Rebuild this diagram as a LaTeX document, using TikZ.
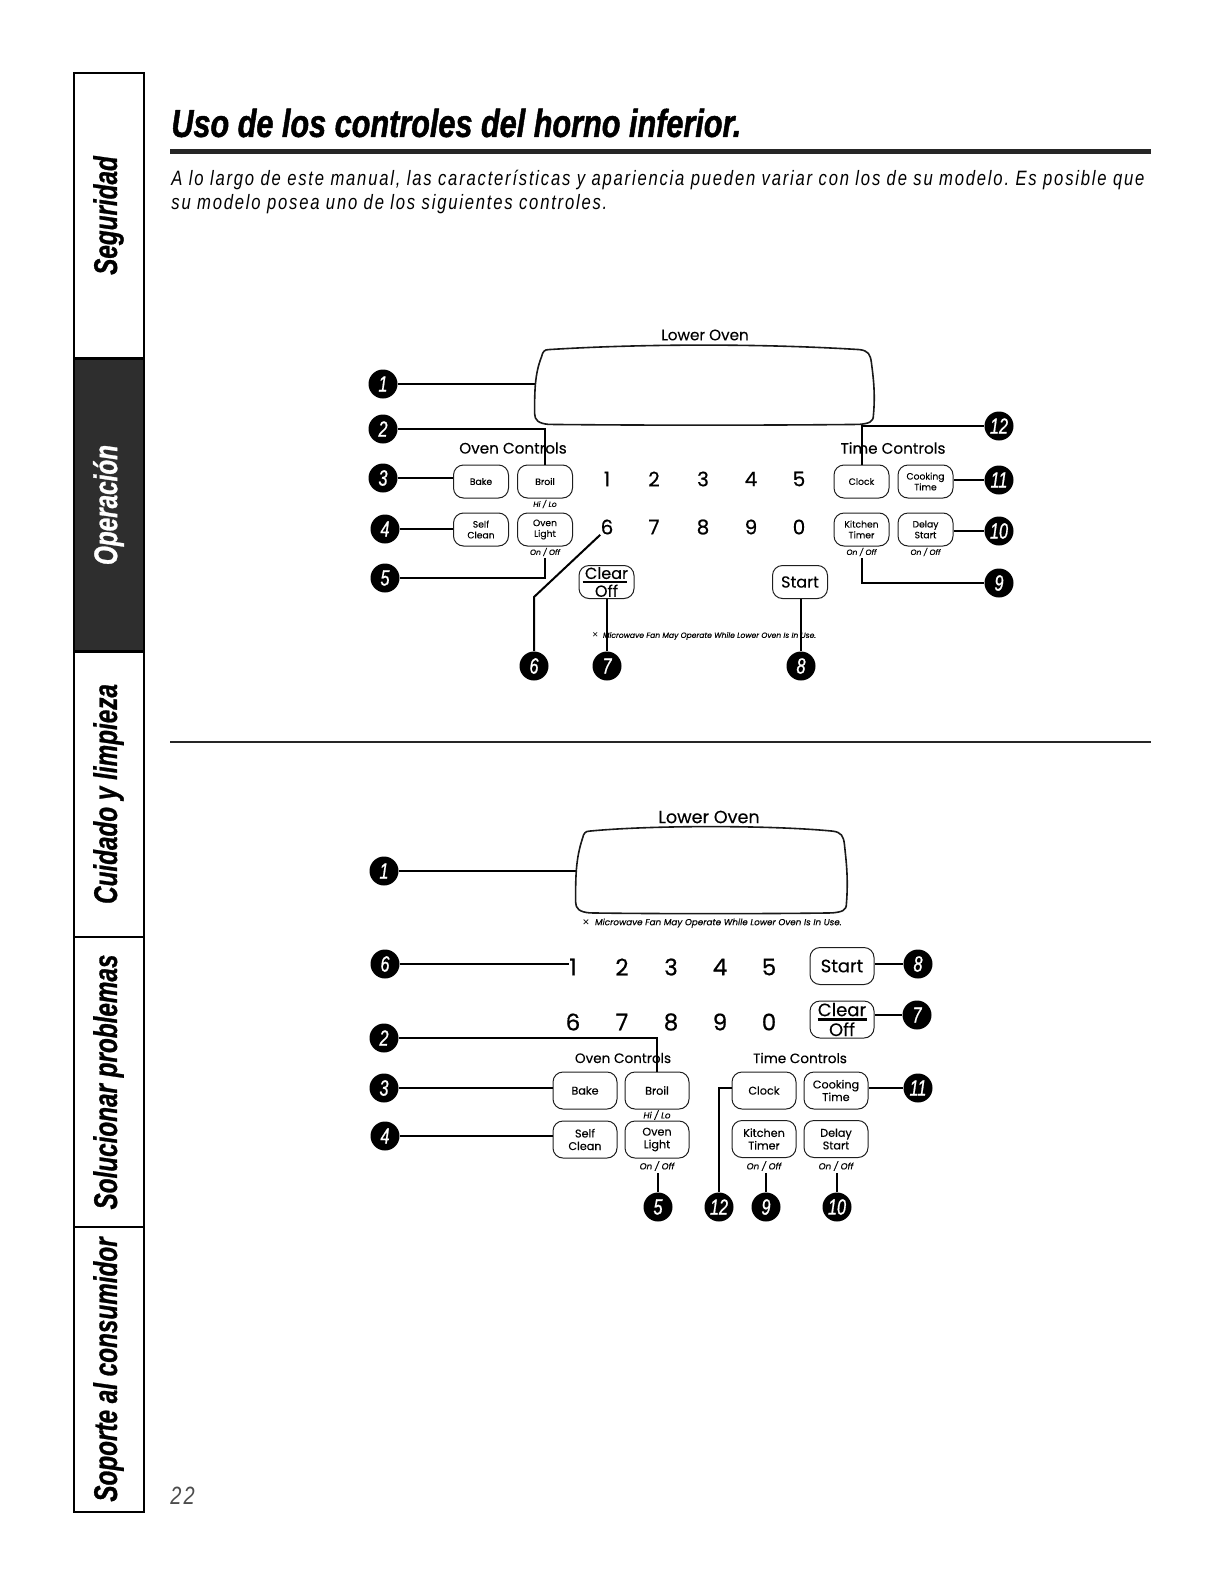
\documentclass[tikz,border=0pt]{standalone}
\usepackage{fontspec}
\usetikzlibrary{positioning, calc}
\setmainfont[FakeBold=0.25]{Poppins}
\newfontfamily\digitfont[FakeBold=0.6]{Poppins}
\newfontfamily\headfont[FakeStretch=0.74,FakeBold=0.8]{Liberation Sans}
\newfontfamily\titlefont[FakeStretch=0.785,FakeBold=1.2]{Liberation Sans}
\newfontfamily\introfont[FakeStretch=0.80,LetterSpace=8.6]{Liberation Sans}
\newfontfamily\fanfont{DejaVu Sans}
\definecolor{panelink}{RGB}{30,30,30}

\begin{document}
\begin{tikzpicture}[
	x=0.5pt, y=-0.5pt,
	tab/.style={draw=black, line width=1pt, rotate=90, minimum height=35pt, inner sep=0pt, font=\headfont\fontsize{16.4}{16.4}\selectfont\bfseries\itshape},
	badge/.style={circle, fill=black, text=white, minimum size=14.5pt, inner sep=0pt, font=\headfont\fontsize{11}{11}\selectfont\itshape},
	btn/.style={rectangle, draw=panelink, line width=0.5pt, rounded corners=5pt, minimum width=27.5pt, minimum height=16.5pt, inner sep=0pt, align=center, font=\fontsize{4.6}{5.4}\selectfont},
	bigbtn/.style={btn, minimum width=32pt, minimum height=18.5pt, font=\fontsize{5.6}{6.3}\selectfont},
	digit/.style={inner sep=0pt, font=\digitfont\fontsize{10}{10}\selectfont},
	bigdigit/.style={inner sep=0pt, font=\digitfont\fontsize{11.5}{11.5}\selectfont},
	note/.style={inner sep=0.6pt, font=\fontsize{3.8}{3.8}\selectfont\itshape},
	bignote/.style={inner sep=0.6pt, font=\fontsize{4.4}{4.4}\selectfont\itshape},
	head/.style={inner sep=0pt, font=\fontsize{7.6}{7.6}\selectfont},
	bighead/.style={inner sep=0pt, font=\fontsize{6.8}{6.8}\selectfont},
	intro/.style={anchor=west, inner sep=0pt, font=\introfont\frenchspacing\fontsize{10.4}{12}\selectfont\itshape},
	screen/.style={rectangle, inner sep=0pt},
	arrow/.style={draw=black, line width=1pt},
	rulebar/.style={draw=black, line width=1.2pt}
	]
	\useasboundingbox (0,0) rectangle (1224,1584);

	% Side tabs
	\node[tab, minimum width=142.5pt] (tabseg) at (108.5,215.5) {Seguridad};
	\node[tab, minimum width=146.5pt, fill=black!82, text=white] (tabope) at (108.5,505) {Operación};
	\node[tab, minimum width=143pt] (tabcui) at (108.5,794) {Cuidado y limpieza};
	\node[tab, minimum width=145pt] (tabsol) at (108.5,1082) {Solucionar problemas};
	\node[tab, minimum width=142.5pt] (tabsop) at (108.5,1369.5) {Soporte al consumidor};

	% Page heading
	\node[anchor=west, inner sep=0pt, font=\titlefont\fontsize{19.5}{19.5}\selectfont\bfseries\itshape] (title) at (171,123) {Uso de los controles del horno inferior.};
	\coordinate (ruleL) at (170,151.5);
	\coordinate (ruleR) at (1151,151.5);
	\draw[line width=2.4pt, black!85] (ruleL) -- (ruleR);
	\node[intro] (introa) at (171,180) {A lo largo de este manual, las características y apariencia pueden variar con los de su modelo. Es posible que};
	\node[intro] (introb) at (171,204) {su modelo posea uno de los siguientes controles.};
	\node[intro, text=black!70, font=\introfont\fontsize{12.5}{13}\selectfont\itshape] (pagenum) at (170,1496) {22};
	\coordinate (sepL) at (170,742);
	\coordinate (sepR) at (1151,742);
	\draw[line width=1pt, black!85] (sepL) -- (sepR);

	% Upper panel
	\node[screen, minimum width=169pt, minimum height=39pt] (dispA) at (704,386) {};
	\node[head] (lowerA) at (705,335) {Lower Oven};
	\node[head] (ovenA) at (513,448) {Oven Controls};
	\node[head] (timeA) at (893,448) {Time Controls};
	\node[btn] (bakeA) at (481,481.5) {Bake};
	\node[btn] (broilA) at (545,481.5) {Broil};
	\node[btn] (selfA) at (481,529.5) {Self\\Clean};
	\node[btn] (lightA) at (545,529.5) {Oven\\Light};
	\node[btn] (clockA) at (861.5,481.5) {Clock};
	\node[btn] (cookA) at (925.5,481.5) {Cooking\\Time};
	\node[btn] (kitchenA) at (861.5,529.5) {Kitchen\\Timer};
	\node[btn] (delayA) at (925.5,529.5) {Delay\\Start};
	\node[btn, font=\fontsize{8}{8.9}\selectfont] (clearA) at (606.5,582) {Clear\\Off};
	\node[btn, font=\fontsize{8}{8.4}\selectfont] (startA) at (800,582) {Start};
	\node[note] (hiloA) at (545,504) {Hi / Lo};
	\node[note] (lightnoteA) at (545,552) {On / Off};
	\node[note] (kitchennoteA) at (861.5,552) {On / Off};
	\node[note] (delaynoteA) at (925.5,552) {On / Off};
	\node[note] (fanA) at (704,636) {{\fanfont ✕}\ \ Microwave Fan May Operate While Lower Oven Is In Use.};
	\foreach \n/\xpos in {1/607,2/654,3/703,4/751,5/799}
		\node[digit] (dA\n) at (\xpos,479) {\n};
	\foreach \n/\xpos in {6/607,7/654,8/703,9/751,0/799}
		\node[digit] (dA\n) at (\xpos,527) {\n};

	\node[badge] (aone) at (383,384) {1};
	\node[badge] (atwo) at (383,429) {2};
	\node[badge] (athree) at (383,478) {3};
	\node[badge] (afour) at (385,529) {4};
	\node[badge] (afive) at (385,578) {5};
	\node[badge] (asix) at (534,666) {6};
	\node[badge] (aseven) at (607,666) {7};
	\node[badge] (aeight) at (801,666) {8};
	\node[badge] (anine) at (999,583) {9};
	\node[badge] (aten) at (999,531) {10};
	\node[badge] (aeleven) at (999,480) {11};
	\node[badge] (atwelve) at (999,426) {12};
	\coordinate (akink) at (534,597);

	% Upper connectors
	\draw[arrow] (aone) -- (dispA.west |- aone);
	\draw[arrow] (atwo) -| (broilA.north);
	\draw[arrow] (athree) -- (bakeA.west |- athree);
	\draw[arrow] (afour) -- (selfA.west |- afour);
	\draw[arrow] (afive) -| (lightnoteA.south);
	\draw[arrow] (asix) -- (akink) -- (dA6.south west);
	\draw[arrow] (aseven) -- (clearA.south -| aseven);
	\draw[arrow] (aeight) -- (startA.south -| aeight);
	\draw[arrow] (kitchennoteA.south) |- (anine);
	\draw[arrow] (aten) -- (delayA.east |- aten);
	\draw[arrow] (aeleven) -- (cookA.east |- aeleven);
	\draw[arrow] (atwelve) -| (clockA.north);
	\draw[rulebar] ($(clearA.west)+(4,0)$) -- ($(clearA.east)+(-8,0)$);

	% Lower panel
	\node[screen, minimum width=135pt, minimum height=42.5pt] (dispB) at (711,871) {};
	\node[head, font=\fontsize{8.8}{8.8}\selectfont] (lowerB) at (709,817) {Lower Oven};
	\node[bighead] (ovenB) at (623,1058) {Oven Controls};
	\node[bighead] (timeB) at (800,1058) {Time Controls};
	\node[bignote] (fanB) at (712,923) {{\fanfont ✕}\ \ Microwave Fan May Operate While Lower Oven Is In Use.};
	\node[bigbtn, font=\fontsize{9}{9}\selectfont] (startB) at (842,966) {Start};
	\node[bigbtn, font=\fontsize{9}{9.9}\selectfont] (clearB) at (842,1019.5) {Clear\\Off};
	\node[bigbtn] (bakeB) at (585,1090.5) {Bake};
	\node[bigbtn] (broilB) at (657,1090.5) {Broil};
	\node[bigbtn] (selfB) at (585,1139.5) {Self\\Clean};
	\node[bigbtn] (lightB) at (657,1139.5) {Oven\\Light};
	\node[bigbtn] (clockB) at (764,1090.5) {Clock};
	\node[bigbtn] (cookB) at (836,1090.5) {Cooking\\Time};
	\node[bigbtn] (kitchenB) at (764,1139) {Kitchen\\Timer};
	\node[bigbtn] (delayB) at (836,1139) {Delay\\Start};
	\node[bignote] (hiloB) at (657,1115) {Hi / Lo};
	\node[bignote] (lightnoteB) at (657,1166) {On / Off};
	\node[bignote] (kitchennoteB) at (764,1166) {On / Off};
	\node[bignote] (delaynoteB) at (836,1166) {On / Off};
	\foreach \n/\xpos in {1/573,2/622,3/671,4/720,5/769}
		\node[bigdigit] (dB\n) at (\xpos,967) {\n};
	\foreach \n/\xpos in {6/573,7/622,8/671,9/720,0/769}
		\node[bigdigit] (dB\n) at (\xpos,1022) {\n};

	\node[badge] (bone) at (384,871) {1};
	\node[badge] (bsix) at (385,964) {6};
	\node[badge] (btwo) at (384,1038) {2};
	\node[badge] (bthree) at (384,1088) {3};
	\node[badge] (bfour) at (385,1136) {4};
	\node[badge] (bfive) at (658,1207) {5};
	\node[badge] (btwelve) at (719,1207) {12};
	\node[badge] (bnine) at (766,1207) {9};
	\node[badge] (bten) at (837,1207) {10};
	\node[badge] (beight) at (918,964) {8};
	\node[badge] (bseven) at (917,1015) {7};
	\node[badge] (beleven) at (918,1088) {11};

	% Lower connectors
	\draw[arrow] (bone) -- (dispB.west);
	\draw[arrow] (bsix) -- (dB1.west |- bsix);
	\draw[arrow] (btwo) -| (broilB.north);
	\draw[arrow] (bthree) -- (bakeB.west |- bthree);
	\draw[arrow] (bfour) -- (selfB.west |- bfour);
	\draw[arrow] (bfive) -- (lightnoteB.south -| bfive);
	\draw[arrow] (btwelve) |- (clockB.west |- beleven);
	\draw[arrow] (bnine) -- (kitchennoteB.south -| bnine);
	\draw[arrow] (bten) -- (delaynoteB.south -| bten);
	\draw[arrow] (beight) -- (startB.east |- beight);
	\draw[arrow] (bseven) -- (clearB.east |- bseven);
	\draw[arrow] (beleven) -- (cookB.east |- beleven);
	\draw[rulebar] ($(clearB.west)+(8,0)$) -- ($(clearB.east)+(-8,0)$);

	% Display outlines
	\foreach \d in {dispA,dispB} {
		\draw[line width=0.8pt, black!90] ($(\d.north west)+(14,3)$) .. controls ($(\d.north)+(-60,-3)$) and ($(\d.north)+(60,-3)$) .. ($(\d.north east)+(-14,3)$)
			.. controls ($(\d.north east)+(-5,4)$) and ($(\d.north east)+(-3,8)$) .. ($(\d.north east)+(-2,16)$)
			.. controls ($(\d.east)+(0,-8)$) and ($(\d.east)+(2,8)$) .. ($(\d.south east)+(0,-10)$)
			.. controls ($(\d.south east)+(0,-3)$) and ($(\d.south east)+(-5,-2)$) .. ($(\d.south east)+(-14,-1)$)
			.. controls ($(\d.south)+(60,0)$) and ($(\d.south)+(-60,0)$) .. ($(\d.south west)+(14,-1)$)
			.. controls ($(\d.south west)+(4,-2)$) and ($(\d.south west)+(0,-5)$) .. ($(\d.south west)+(0,-12)$)
			.. controls ($(\d.west)+(0,6)$) and ($(\d.west)+(0,-12)$) .. ($(\d.north west)+(7,10)$)
			.. controls ($(\d.north west)+(8,5)$) and ($(\d.north west)+(10,3)$) .. ($(\d.north west)+(14,3)$);
	}
\end{tikzpicture}
\end{document}
